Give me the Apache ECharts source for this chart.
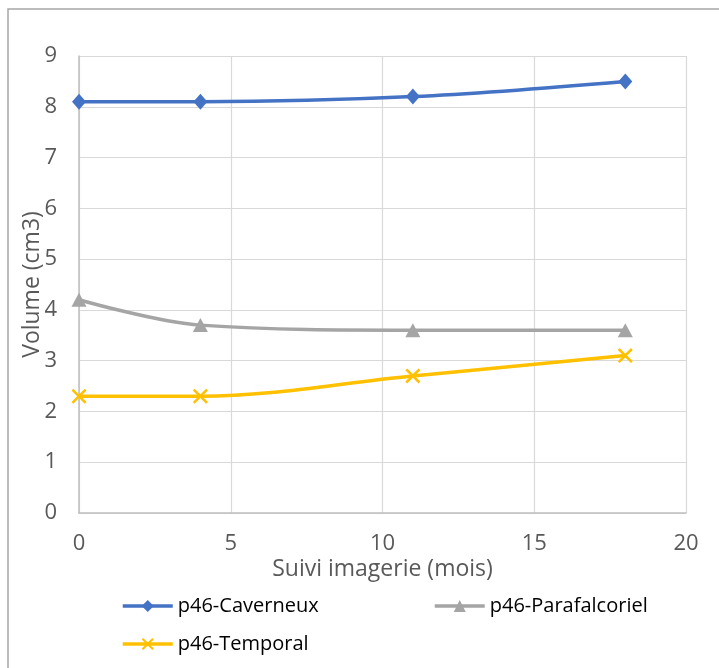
<!DOCTYPE html>
<html><head><meta charset="utf-8">
<script src="https://cdn.jsdelivr.net/npm/echarts@6/dist/echarts.min.js"></script>
<style>html,body{margin:0;padding:0;background:#fff}#c{width:719px;height:668px}</style>
</head><body><div id="c"></div>
<script>
const months = [0, 4, 11, 18];
const caverneux = [8.1, 8.1, 8.2, 8.5];
const parafalcoriel = [4.2, 3.7, 3.6, 3.6];
const temporal = [2.3, 2.3, 2.7, 3.1];
const xTicks = [0, 5, 10, 15, 20];
const yTicks = [0,1,2,3,4,5,6,7,8,9];

const pairs = (xs, ys) => xs.map((x, i) => [x, ys[i]]);
const FONT = 'Open Sans';
const xSym = 'path://M0,1.2 L1.2,0 L5,3.8 L8.8,0 L10,1.2 L6.2,5 L10,8.8 L8.8,10 L5,6.2 L1.2,10 L0,8.8 L3.8,5 Z';
const legendText = {fontSize: 20, color: '#000', fontFamily: FONT};

const chart = echarts.init(document.getElementById('c'), null, {renderer: 'canvas'});
chart.setOption({
  animation: false,
  textStyle: {fontFamily: FONT},
  graphic: [{type: 'rect', shape: {x: 8, y: 9, width: 730, height: 680}, style: {fill: 'none', stroke: '#a6a6a6', lineWidth: 1.5}, silent: true}],
  grid: {left: 79, right: 33, top: 56, bottom: 155},
  xAxis: {
    type: 'value', min: 0, max: 20, interval: 5,
    name: 'Suivi imagerie (mois)', nameLocation: 'middle', nameGap: 45, nameMoveOverlap: false,
    nameTextStyle: {fontSize: 23, color: '#595959', fontFamily: FONT},
    axisLine: {show: true, lineStyle: {color: '#bfbfbf', width: 1.5}},
    axisTick: {show: false},
    axisLabel: {fontSize: 22, color: '#595959', margin: 20, formatter: v => xTicks.includes(v) ? String(v) : ''},
    splitLine: {show: true, lineStyle: {color: '#d9d9d9', width: 1.2}}
  },
  yAxis: {
    type: 'value', min: 0, max: 9, interval: 1,
    name: 'Volume (cm3)', nameLocation: 'middle', nameGap: 35, nameRotate: 90, nameMoveOverlap: false,
    nameTextStyle: {fontSize: 23, color: '#595959', fontFamily: FONT},
    axisLine: {show: true, lineStyle: {color: '#bfbfbf', width: 1.5}},
    axisTick: {show: false},
    axisLabel: {fontSize: 22, color: '#595959', margin: 22, formatter: v => yTicks.includes(v) ? String(v) : ''},
    splitLine: {show: true, lineStyle: {color: '#d9d9d9', width: 1.2}}
  },
  legend: [
    {left: 116, top: 591, data: ['p46-Caverneux'], itemWidth: 50, itemHeight: 15, lineStyle: {width: 3.5}, textStyle: legendText},
    {left: 428, top: 591, data: ['p46-Parafalcoriel'], itemWidth: 50, itemHeight: 15, lineStyle: {width: 3.5}, textStyle: legendText},
    {left: 116, top: 629, data: ['p46-Temporal'], itemWidth: 50, itemHeight: 15, lineStyle: {width: 3.5}, textStyle: legendText}
  ],
  series: [
    {name: 'p46-Caverneux', type: 'line', smooth: 0.35, data: pairs(months, caverneux),
     symbol: 'diamond', symbolSize: [14, 16], lineStyle: {color: '#4472C4', width: 3.5},
     itemStyle: {color: '#4472C4', borderWidth: 0}},
    {name: 'p46-Parafalcoriel', type: 'line', smooth: 0.35, data: pairs(months, parafalcoriel),
     symbol: 'triangle', symbolSize: [15, 14], lineStyle: {color: '#A5A5A5', width: 3.5},
     itemStyle: {color: '#A5A5A5', borderWidth: 0}},
    {name: 'p46-Temporal', type: 'line', smooth: 0.35, data: pairs(months, temporal),
     symbol: xSym, symbolSize: 15, lineStyle: {color: '#FFC000', width: 3.5},
     itemStyle: {color: '#FFC000', borderWidth: 0}}
  ]
});
</script></body></html>
